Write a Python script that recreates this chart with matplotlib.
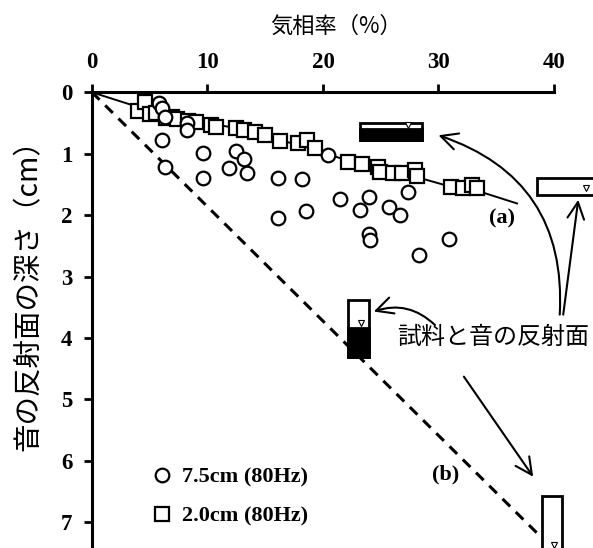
import numpy as np
import matplotlib
matplotlib.use("Agg")
import matplotlib.pyplot as plt
from matplotlib.patches import Rectangle

# gas-phase ratio (%) vs depth of sound reflecting surface (cm)
sq_x = [4.0, 4.6, 5.0, 5.5, 6.4, 6.9, 7.4, 8.3, 9.0, 10.3, 10.7, 12.5, 13.2, 14.1, 15.0,
        16.3, 17.8, 18.6, 19.3, 22.2, 23.4, 24.8, 24.9, 26.1, 26.8, 28.0, 28.1,
        31.1, 32.1, 32.9, 33.3]
sq_y = [0.30, 0.16, 0.36, 0.34, 0.42, 0.40, 0.43, 0.47, 0.48, 0.53, 0.56, 0.58, 0.61, 0.64, 0.69,
        0.80, 0.82, 0.77, 0.91, 1.13, 1.16, 1.21, 1.29, 1.32, 1.32, 1.27, 1.37,
        1.54, 1.56, 1.51, 1.56]

ci_x = [5.8, 6.1, 6.3, 8.2, 8.2, 6.1, 6.3, 9.6, 9.6, 12.5, 13.2, 11.9, 13.4, 16.1,
        18.2, 16.1, 18.5, 20.4, 21.5, 24.0, 23.2, 25.7, 26.7, 24.0, 24.1, 28.3, 30.9, 27.4]
ci_y = [0.17, 0.25, 0.41, 0.50, 0.61, 0.77, 1.21, 0.99, 1.40, 0.95, 1.08, 1.24, 1.31, 1.40,
        1.42, 2.05, 1.94, 1.02, 1.73, 1.70, 1.92, 1.86, 2.00, 2.30, 2.41, 2.65, 2.39, 1.62]

# curve (a) and line (b)
a_x = [0, 4.0, 8.3, 12.5, 16.3, 19.3, 22.2, 24.8, 28.1, 31.1, 33.3, 36.8]
a_y = [0, 0.24, 0.46, 0.58, 0.78, 0.93, 1.12, 1.22, 1.38, 1.54, 1.60, 1.81]
b_x = [0, 40]
b_y = [0, 7.45]

serif = dict(family="Liberation Serif", weight="bold")
jp = ["Noto Sans CJK JP", "DejaVu Sans"]

fig = plt.figure(figsize=(5.93, 5.48), dpi=100)
ax = fig.add_axes([0.1551, 0.0, 0.7791, 0.8316])

ax.plot(a_x, a_y, color="black", lw=1.4, zorder=2)
ax.plot(b_x, b_y, color="black", lw=2.2, ls=(0, (3.5, 2.6)), zorder=2)
ax.plot(sq_x, sq_y, ls="none", marker="s", ms=9.8, mfc="white", mec="black", mew=1.6,
        zorder=3, label="2.0cm (80Hz)")
ax.plot(ci_x, ci_y, ls="none", marker="o", ms=9.8, mfc="white", mec="black", mew=1.6,
        zorder=4, label="7.5cm (80Hz)")

ax.set_xlim(0, 40)
ax.set_ylim(7.42, 0)
ax.xaxis.tick_top()
ax.xaxis.set_label_position("top")
ax.set_xticks([0, 10, 20, 30, 40])
ax.set_yticks(range(8))
for s in ["bottom", "right"]:
    ax.spines[s].set_visible(False)
for s in ["top", "left"]:
    ax.spines[s].set_linewidth(2.2)
ax.tick_params(width=2, length=6, direction="out", pad=8)
for lab in ax.get_xticklabels() + ax.get_yticklabels():
    lab.set_fontproperties(dict(family="Liberation Serif", weight="bold", size=16.5))

ax.set_xlabel("気相率（%）", family=jp, fontsize=16)
ax.xaxis.set_label_coords(0.528, 1.131)
ax.set_ylabel("音の反射面の深さ（cm）", family=jp, fontsize=20.5)
ax.yaxis.set_label_coords(-0.104, 0.57)

# sample containers
def container(x0, x1, y0, y1, ysplit, tx, ty):
    ax.add_patch(Rectangle((x0, y0), x1 - x0, y1 - y0, fc="white", ec="black", lw=2,
                           clip_on=False, zorder=5))
    if ysplit is not None:
        ax.add_patch(Rectangle((x0, ysplit), x1 - x0, y1 - ysplit, fc="black", ec="black",
                               lw=2, clip_on=False, zorder=5))
    ax.plot([tx], [ty], marker="v", ms=5, mfc="white", mec="black", mew=0.8,
            clip_on=False, zorder=6)

container(23.2, 28.6, 0.50, 0.77, 0.60, 27.4, 0.53)
container(38.5, 44.0, 1.40, 1.67, None, 42.8, 1.56)
container(22.2, 24.0, 3.39, 4.31, 3.84, 23.3, 3.76)
container(39.0, 40.7, 6.57, 7.8, None, 40.0, 7.37)

ax.text(26.4, 3.99, "試料と音の反射面", family=jp, fontsize=17.3, va="center", ha="left")
ax.text(35.5, 2.05, "(a)", fontsize=16, ha="center", va="center", **serif)
ax.text(30.6, 6.23, "(b)", fontsize=16, ha="center", va="center", **serif)

arrow = dict(arrowstyle="->,head_length=0.6,head_width=0.3", color="black", lw=1.5,
             shrinkA=0, shrinkB=0, mutation_scale=20)
ax.annotate("", xy=(30.0, 0.70), xytext=(40.5, 3.62), annotation_clip=False,
            arrowprops=dict(arrow, connectionstyle="arc3,rad=0.38"))
ax.annotate("", xy=(42.1, 1.75), xytext=(40.8, 3.62), annotation_clip=False,
            arrowprops=arrow)
ax.annotate("", xy=(24.4, 3.57), xytext=(29.7, 3.79), annotation_clip=False,
            arrowprops=dict(arrow, connectionstyle="arc3,rad=0.3"))
ax.annotate("", xy=(38.2, 6.26), xytext=(32.2, 4.63), annotation_clip=False,
            arrowprops=arrow)

leg = ax.legend(handles=ax.get_lines()[3:1:-1], loc="upper left", bbox_to_anchor=(0.09, 0.222),
                frameon=False, handlelength=0.8, handletextpad=0.5, labelspacing=0.85,
                prop=dict(family="Liberation Serif", weight="bold", size=16))

fig.savefig("out.png", dpi=100)
